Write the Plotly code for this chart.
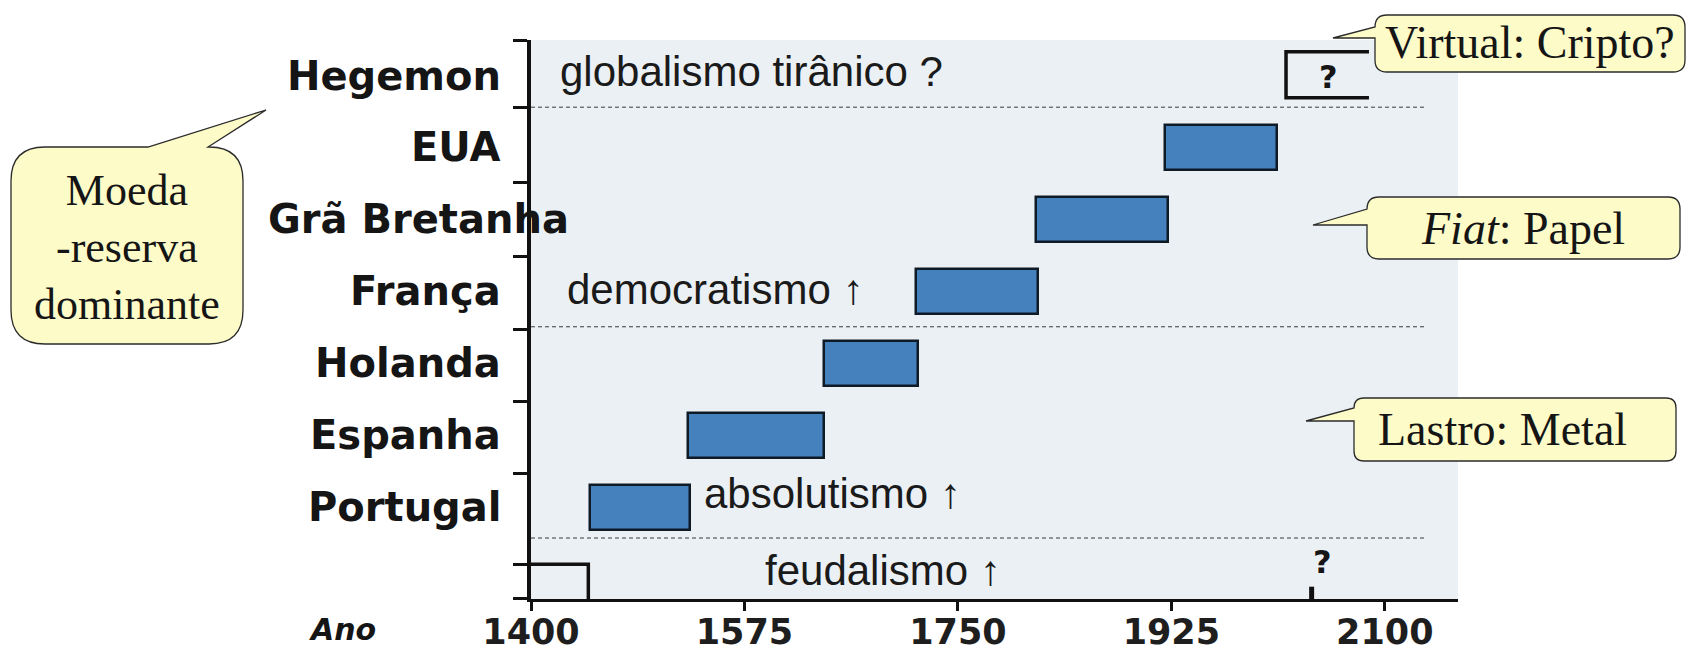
import plotly.graph_objects as go

# ---------------- data ----------------
countries = ["Portugal", "Espanha", "Holanda", "França", "Grã Bretanha", "EUA"]
country_rows = [1, 2, 3, 4, 5, 6]
start_year = [1448, 1529, 1640, 1716, 1814, 1920]
end_year = [1530, 1640, 1717, 1816, 1922, 2012]

row_labels = ["Hegemon", "EUA", "Grã Bretanha", "França", "Holanda", "Espanha", "Portugal"]
row_label_rows = [7, 6, 5, 4, 3, 2, 1]

future_row = 7
future_start, future_end = 2019, 2087      # "?" open box (Hegemon row)
feudal_end = 1447                          # feudal bracket
future_mark_year = 2040                    # "?" mark on the time axis

x_ticks = [1400, 1575, 1750, 1925, 2100]
row_boundaries = [-0.265, 0.21, 1.47, 2.47, 3.47, 4.48, 5.51, 6.55, 7.485]
era_separators = [0.576, 3.51, 6.56]

era_labels = ["feudalismo ↑", "absolutismo ↑", "democratismo ↑", "globalismo tirânico ?"]

callouts = ["Virtual: Cripto?", "<i>Fiat</i>: Papel", "Lastro: Metal"]
reserve_text = "Moeda<br>-reserva<br>dominante"

# ---------------- layout constants ----------------
W, H = 1688, 651
L, R, T, B = 531, 1458, 40, 599
X_RANGE = [1400, 2160]
Y_RANGE = [-0.271, 7.493]


def px(x):
    return (x - L) / (R - L)


def py(y):
    return (B - y) / (B - T)


def bubble_path(x0, y0, x1, y1, r, wedge_side, a, b, tip):
    tx, ty = tip
    if wedge_side == "top":
        s = (f"M {px(x0+r)},{py(y0)} L {px(a)},{py(y0)} L {px(tx)},{py(ty)} L {px(b)},{py(y0)} "
             f"L {px(x1-r)},{py(y0)} Q {px(x1)},{py(y0)} {px(x1)},{py(y0+r)} "
             f"L {px(x1)},{py(y1-r)} Q {px(x1)},{py(y1)} {px(x1-r)},{py(y1)} "
             f"L {px(x0+r)},{py(y1)} Q {px(x0)},{py(y1)} {px(x0)},{py(y1-r)} "
             f"L {px(x0)},{py(y0+r)} Q {px(x0)},{py(y0)} {px(x0+r)},{py(y0)} Z")
    else:
        s = (f"M {px(x0+r)},{py(y0)} L {px(x1-r)},{py(y0)} Q {px(x1)},{py(y0)} {px(x1)},{py(y0+r)} "
             f"L {px(x1)},{py(y1-r)} Q {px(x1)},{py(y1)} {px(x1-r)},{py(y1)} "
             f"L {px(x0+r)},{py(y1)} Q {px(x0)},{py(y1)} {px(x0)},{py(y1-r)} "
             f"L {px(x0)},{py(b)} L {px(tx)},{py(ty)} L {px(x0)},{py(a)} "
             f"L {px(x0)},{py(y0+r)} Q {px(x0)},{py(y0)} {px(x0+r)},{py(y0)} Z")
    return s


fig = go.Figure()

fig.add_trace(go.Bar(
    y=country_rows,
    x=[e - s for s, e in zip(start_year, end_year)],
    base=start_year,
    orientation="h",
    width=0.63,
    marker=dict(color="#4581BD", line=dict(color="#0E1A26", width=2.5)),
    hoverinfo="skip",
    showlegend=False,
))

shapes = []
for yv in era_separators:
    shapes.append(dict(type="line", xref="x", yref="y", x0=1400, x1=2133, y0=yv, y1=yv,
                       line=dict(color="#3a3a3a", width=1, dash="4px,3px")))
shapes.append(dict(type="path", xref="x", yref="y",
                   path=f"M 1400,{row_boundaries[1]} L {feudal_end},{row_boundaries[1]} L {feudal_end},{Y_RANGE[0]}",
                   line=dict(color="#111", width=3.5)))
shapes.append(dict(type="path", xref="x", yref="y",
                   path=(f"M {future_end},{future_row+0.33} L {future_start},{future_row+0.33} "
                         f"L {future_start},{future_row-0.31} L {future_end},{future_row-0.31}"),
                   line=dict(color="#111", width=3.5)))
shapes.append(dict(type="line", xref="x", yref="y", x0=future_mark_year, x1=future_mark_year,
                   y0=Y_RANGE[0], y1=-0.10, line=dict(color="#111", width=5)))

fill = "#FDFBC8"
edge = dict(color="#2b2b2b", width=1.3)
shapes.append(dict(type="path", xref="paper", yref="paper", fillcolor=fill, line=edge, layer="above",
                   path=bubble_path(11, 147, 243, 344, 34, "top", 148, 208, (266, 110))))
shapes.append(dict(type="path", xref="paper", yref="paper", fillcolor=fill, line=edge, layer="above",
                   path=bubble_path(1375, 15, 1685, 72, 12, "left", 27, 38, (1333, 38))))
shapes.append(dict(type="path", xref="paper", yref="paper", fillcolor=fill, line=edge, layer="above",
                   path=bubble_path(1367, 197, 1680, 259, 12, "left", 209, 225, (1313, 225))))
shapes.append(dict(type="path", xref="paper", yref="paper", fillcolor=fill, line=edge, layer="above",
                   path=bubble_path(1354, 398, 1676, 461, 10, "left", 408, 421, (1306, 421))))

annotations = []
label_font = dict(family="DejaVu Sans", size=40, color="#151515", weight="bold")
for lab, rv in zip(row_labels, row_label_rows):
    if lab == "Grã Bretanha":
        annotations.append(dict(xref="paper", yref="y", x=px(418), y=rv, text=lab, showarrow=False,
                                xanchor="center", yanchor="middle", font=label_font))
    else:
        annotations.append(dict(xref="paper", yref="y", x=px(503), y=rv, text=lab, showarrow=False,
                                xanchor="right", yanchor="middle", font=label_font))

era_font = dict(family="Liberation Sans, Arial", size=42, color="#1a1a1a")
era_pos = [(1590, 0.12), (1540, 1.19), (1428, 4.03), (1422, 7.06)]
for txt, (xv, yv) in zip(era_labels, era_pos):
    annotations.append(dict(xref="x", yref="y", x=xv, y=yv, text=txt, showarrow=False,
                            xanchor="left", yanchor="middle", font=era_font))

q_font = dict(family="DejaVu Sans", size=32, color="#151515", weight="bold")
annotations.append(dict(xref="x", yref="y", x=2054, y=6.98, text="?", showarrow=False, font=q_font))
annotations.append(dict(xref="x", yref="y", x=2049, y=0.24, text="?", showarrow=False, font=q_font))

annotations.append(dict(xref="paper", yref="paper", x=px(342), y=py(629), text="<b><i>Ano</i></b>",
                        showarrow=False, xanchor="center", yanchor="middle",
                        font=dict(family="DejaVu Sans", size=30, color="#151515")))

serif = dict(family="Liberation Serif, Times New Roman", size=46, color="#151515")
callout_pos = [(1530, 42), (1523, 228), (1502, 429)]
for txt, (cx, cy) in zip(callouts, callout_pos):
    annotations.append(dict(xref="paper", yref="paper", x=px(cx), y=py(cy), text=txt, showarrow=False,
                            xanchor="center", yanchor="middle", font=serif))
annotations.append(dict(xref="paper", yref="paper", x=px(127), y=py(247), text=reserve_text,
                        showarrow=False, xanchor="center", yanchor="middle",
                        font=dict(family="Liberation Serif, Times New Roman", size=44, color="#151515")))

fig.update_layout(
    width=W, height=H, autosize=False,
    margin=dict(l=L, r=W - R, t=T, b=H - B, pad=0, autoexpand=False),
    paper_bgcolor="white",
    plot_bgcolor="#EBF0F4",
    showlegend=False,
    bargap=0,
    shapes=shapes,
    annotations=annotations,
    xaxis=dict(range=X_RANGE, tickvals=x_ticks, ticktext=[str(v) for v in x_ticks],
               ticks="outside", ticklen=9, tickwidth=3, tickcolor="#111", automargin=False,
               ticklabelstandoff=-9,
               showline=True, linewidth=3, linecolor="#111", showgrid=False, zeroline=False,
               tickfont=dict(family="DejaVu Sans", size=35, color="#1e1e1e", weight="bold")),
    yaxis=dict(range=Y_RANGE, tickvals=row_boundaries, showticklabels=False, automargin=False,
               ticks="outside", ticklen=14, tickwidth=3, tickcolor="#111",
               showline=True, linewidth=4, linecolor="#111", showgrid=False, zeroline=False),
)

fig.write_html("out.html", config={"displayModeBar": False},
               post_script="document.body.style.margin='0px';document.body.style.overflow='hidden';")
